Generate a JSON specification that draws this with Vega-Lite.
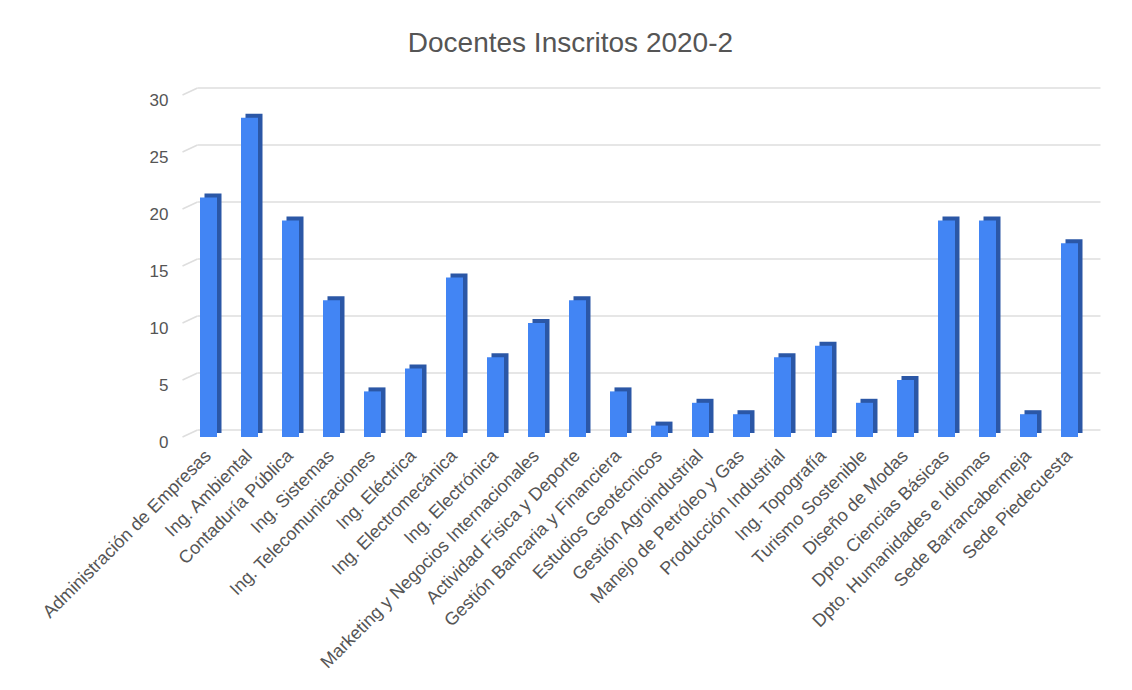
{
  "$schema": "https://vega.github.io/schema/vega-lite/v6.json",
  "autosize": "none",
  "width": 902,
  "height": 342,
  "padding": {"left": 188, "top": 95, "right": 42, "bottom": 253},
  "background": "white",
  "config": {
    "view": {"stroke": null},
    "font": "Arial, Liberation Sans, sans-serif"
  },
  "title": {
    "text": "Docentes Inscritos 2020-2",
    "fontSize": 28,
    "fontWeight": "normal",
    "color": "#555555",
    "anchor": "middle",
    "frame": "bounds",
    "offset": 29
  },
  "datasets": {
    "bars": [
      {"programa": "Administración de Empresas", "docentes": 21},
      {"programa": "Ing. Ambiental", "docentes": 28},
      {"programa": "Contaduría Pública", "docentes": 19},
      {"programa": "Ing. Sistemas", "docentes": 12},
      {"programa": "Ing. Telecomunicaciones", "docentes": 4},
      {"programa": "Ing. Eléctrica", "docentes": 6},
      {"programa": "Ing. Electromecánica", "docentes": 14},
      {"programa": "Ing. Electrónica", "docentes": 7},
      {"programa": "Marketing y Negocios Internacionales", "docentes": 10},
      {"programa": "Actividad Física y Deporte", "docentes": 12},
      {"programa": "Gestión Bancaria y Financiera", "docentes": 4},
      {"programa": "Estudios Geotécnicos", "docentes": 1},
      {"programa": "Gestión Agroindustrial", "docentes": 3},
      {"programa": "Manejo de Petróleo y Gas", "docentes": 2},
      {"programa": "Producción Industrial", "docentes": 7},
      {"programa": "Ing. Topografía", "docentes": 8},
      {"programa": "Turismo Sostenible", "docentes": 3},
      {"programa": "Diseño de Modas", "docentes": 5},
      {"programa": "Dpto. Ciencias Básicas", "docentes": 19},
      {"programa": "Dpto. Humanidades e Idiomas", "docentes": 19},
      {"programa": "Sede Barrancabermeja", "docentes": 2},
      {"programa": "Sede Piedecuesta", "docentes": 17}
    ],
    "grid": [
      {"g": 0}, {"g": 5}, {"g": 10}, {"g": 15}, {"g": 20}, {"g": 25}, {"g": 30}
    ]
  },
  "layer": [
    {
      "data": {"name": "grid"},
      "mark": {"type": "rule", "color": "#dedede", "strokeWidth": 1.5, "xOffset": -11, "x2Offset": 31, "yOffset": -7, "y2Offset": -7},
      "encoding": {
        "x": {"datum": "Administración de Empresas", "type": "nominal"},
        "x2": {"datum": "Sede Piedecuesta"},
        "y": {"field": "g", "type": "quantitative"},
        "y2": {"field": "g"}
      }
    },
    {
      "data": {"name": "grid"},
      "mark": {"type": "rule", "color": "#dedede", "strokeWidth": 1.5, "xOffset": -26, "x2Offset": -11, "yOffset": 0, "y2Offset": -7},
      "encoding": {
        "x": {"datum": "Administración de Empresas", "type": "nominal"},
        "x2": {"datum": "Administración de Empresas"},
        "y": {"field": "g", "type": "quantitative"},
        "y2": {"field": "g"}
      }
    },
    {
      "data": {"name": "bars"},
      "mark": {"type": "bar", "size": 17, "color": "#2b57a6", "xOffset": 4.5, "yOffset": -4, "y2Offset": -4},
      "encoding": {
        "x": {"field": "programa", "type": "nominal", "sort": null},
        "y": {"field": "docentes", "type": "quantitative"}
      }
    },
    {
      "data": {"name": "bars"},
      "mark": {"type": "bar", "size": 17, "color": "#4285f4"},
      "encoding": {
        "x": {
          "field": "programa",
          "type": "nominal",
          "sort": null,
          "title": null,
          "scale": {
            "domain": ["Administración de Empresas", "Ing. Ambiental", "Contaduría Pública", "Ing. Sistemas", "Ing. Telecomunicaciones", "Ing. Eléctrica", "Ing. Electromecánica", "Ing. Electrónica", "Marketing y Negocios Internacionales", "Actividad Física y Deporte", "Gestión Bancaria y Financiera", "Estudios Geotécnicos", "Gestión Agroindustrial", "Manejo de Petróleo y Gas", "Producción Industrial", "Ing. Topografía", "Turismo Sostenible", "Diseño de Modas", "Dpto. Ciencias Básicas", "Dpto. Humanidades e Idiomas", "Sede Barrancabermeja", "Sede Piedecuesta"],
            "paddingInner": 0,
            "paddingOuter": 0
          },
          "axis": {
            "labelAngle": -45,
            "labelAlign": "right",
            "labelBaseline": "middle",
            "labelFontSize": 18,
            "labelColor": "#555555",
            "labelPadding": 16,
            "labelOverlap": false,
            "labelLimit": 0,
            "ticks": false,
            "domain": false,
            "grid": false
          }
        },
        "y": {
          "field": "docentes",
          "type": "quantitative",
          "title": null,
          "scale": {"domain": [0, 30], "nice": false},
          "axis": {
            "values": [0, 5, 10, 15, 20, 25, 30],
            "labelFontSize": 17,
            "labelColor": "#555555",
            "labelPadding": 20,
            "labelOffset": 5,
            "ticks": false,
            "domain": false,
            "grid": false
          }
        }
      }
    }
  ]
}
